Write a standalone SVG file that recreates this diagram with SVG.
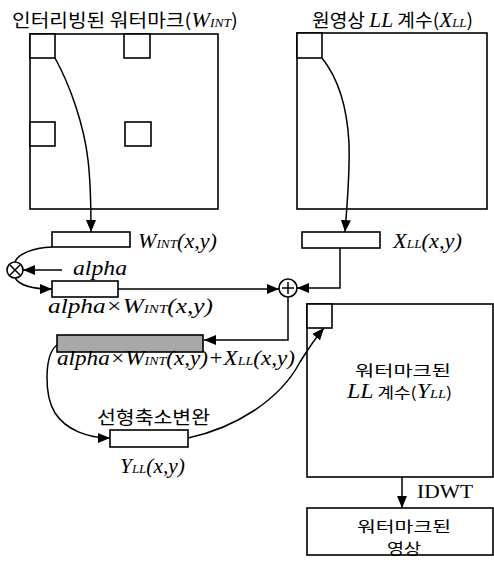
<svg xmlns="http://www.w3.org/2000/svg" width="494" height="568" viewBox="0 0 494 568">
<style>
.box{fill:#fff;stroke:#000;stroke-width:1.6}
.ln{fill:none;stroke:#000;stroke-width:1.5}
.kr{font-family:"Noto Sans CJK KR","Noto Sans",sans-serif;font-size:18px;fill:#000}
.k2{font-size:15px}
.m{font-family:"Liberation Serif",serif;font-style:italic;font-size:20px;fill:#000}
.s{font-size:12px}
.r{font-family:"Liberation Serif",serif;font-size:19px;fill:#000}
</style>
<defs>
<marker id="ah" markerUnits="userSpaceOnUse" markerWidth="12" markerHeight="10" refX="12" refY="5" orient="auto">
<path d="M0,0 L12,5 L0,10 z" fill="#000"/>
</marker>
</defs>
<rect width="494" height="568" fill="#fff"/>

<g id="wint">
<text class="kr" x="12" y="27" textLength="226" lengthAdjust="spacingAndGlyphs">인터리빙된 워터마크(<tspan class="m" font-size="18">W<tspan class="s">INT</tspan></tspan>)</text>
<rect class="box" x="30" y="34" width="188" height="175"/>
<rect class="box" x="30" y="34" width="25" height="24"/>
<rect class="box" x="124" y="34" width="26" height="24"/>
<rect class="box" x="30" y="122" width="25" height="24"/>
<rect class="box" x="125" y="122" width="26" height="24"/>
</g>

<g id="xll">
<text class="kr" x="312" y="27" textLength="161" lengthAdjust="spacingAndGlyphs">원영상 <tspan class="m" font-size="18">LL</tspan> 계수(<tspan class="m" font-size="18">X<tspan class="s">LL</tspan></tspan>)</text>
<rect class="box" x="297" y="33" width="190" height="176"/>
<rect class="box" x="297" y="33" width="25" height="25"/>
</g>

<g id="wbox">
<rect class="box" x="52" y="232" width="78" height="15"/>
<text class="m" x="138" y="248" textLength="79" lengthAdjust="spacingAndGlyphs">W<tspan class="s">INT</tspan>(x,y)</text>
</g>

<g id="xbox">
<rect class="box" x="302" y="232" width="78" height="16"/>
<text class="m" x="393" y="248" textLength="69" lengthAdjust="spacingAndGlyphs">X<tspan class="s">LL</tspan>(x,y)</text>
</g>

<g id="mult">
<circle class="box" cx="15" cy="270" r="8"/>
<path class="ln" d="M10,265 L20,275 M20,265 L10,275" stroke-width="1.3"/>
<text class="m" x="73" y="275" textLength="54" lengthAdjust="spacingAndGlyphs">alpha</text>
</g>

<g id="abox">
<rect class="box" x="52" y="281" width="66" height="16"/>
<text class="m" x="48" y="313" textLength="165" lengthAdjust="spacingAndGlyphs">alpha×W<tspan class="s">INT</tspan>(x,y)</text>
</g>

<g id="plus">
<circle class="box" cx="288" cy="288" r="9"/>
<path class="ln" d="M288,282 L288,294 M282,288 L294,288" stroke-width="1.3"/>
</g>

<g id="sumbox">
<rect x="57" y="335" width="146" height="17" fill="#a8a8a8" stroke="#000" stroke-width="1.6"/>
<text class="m" x="57" y="365" textLength="238" lengthAdjust="spacingAndGlyphs">alpha×W<tspan class="s">INT</tspan>(x,y)+X<tspan class="s">LL</tspan>(x,y)</text>
</g>

<g id="shrink">
<text class="kr" x="97" y="424" textLength="113" lengthAdjust="spacingAndGlyphs">선형축소변완</text>
<rect class="box" x="110" y="430" width="78" height="17"/>
<text class="m" x="120" y="473" textLength="65" lengthAdjust="spacingAndGlyphs">Y<tspan class="s">LL</tspan>(x,y)</text>
</g>

<g id="yll">
<rect class="box" x="307" y="304" width="186" height="173"/>
<rect class="box" x="307" y="304" width="25" height="24"/>
<text class="kr k2" x="355" y="376" textLength="96" lengthAdjust="spacingAndGlyphs">워터마크된</text>
<text class="kr k2" x="347" y="398" textLength="105" lengthAdjust="spacingAndGlyphs"><tspan class="m" font-size="17">LL</tspan> 계수(<tspan class="m" font-size="15">Y<tspan class="s" font-size="11">LL</tspan></tspan>)</text>
</g>

<g id="out">
<rect class="box" x="307" y="508" width="186" height="47"/>
<text class="kr k2" x="357" y="532" textLength="94" lengthAdjust="spacingAndGlyphs">워터마크된</text>
<text class="kr k2" x="387" y="554" textLength="34" lengthAdjust="spacingAndGlyphs">영상</text>
</g>

<g id="connectors">
<path class="ln" d="M55,58 C70,85 84,125 88,160 C91,185 91,205 91,232" marker-end="url(#ah)"/>
<path class="ln" d="M322,58 C338,78 347,105 349,143 C350,175 347,205 345,232" marker-end="url(#ah)"/>
<path class="ln" d="M52,247 C32,248 18,254 15,262"/>
<path class="ln" d="M62,270 L23,270" marker-end="url(#ah)"/>
<path class="ln" d="M15,278 C20,286 35,289 52,289" marker-end="url(#ah)"/>
<path class="ln" d="M118,289 L279,289" marker-end="url(#ah)"/>
<path class="ln" d="M340,248 L340,288 L297,288" marker-end="url(#ah)"/>
<path class="ln" d="M288,297 L288,340 L204,340" marker-end="url(#ah)"/>
<path class="ln" d="M57,345 C44,355 44,395 55,413 C66,430 88,438 110,438" marker-end="url(#ah)"/>
<path class="ln" d="M188,438 C235,428 280,400 300,362 C310,346 318,335 324,328" marker-end="url(#ah)"/>
<path class="ln" d="M402,477 L402,508" marker-end="url(#ah)"/>
<text class="r" x="417" y="498" textLength="56" lengthAdjust="spacingAndGlyphs">IDWT</text>
</g>
</svg>
